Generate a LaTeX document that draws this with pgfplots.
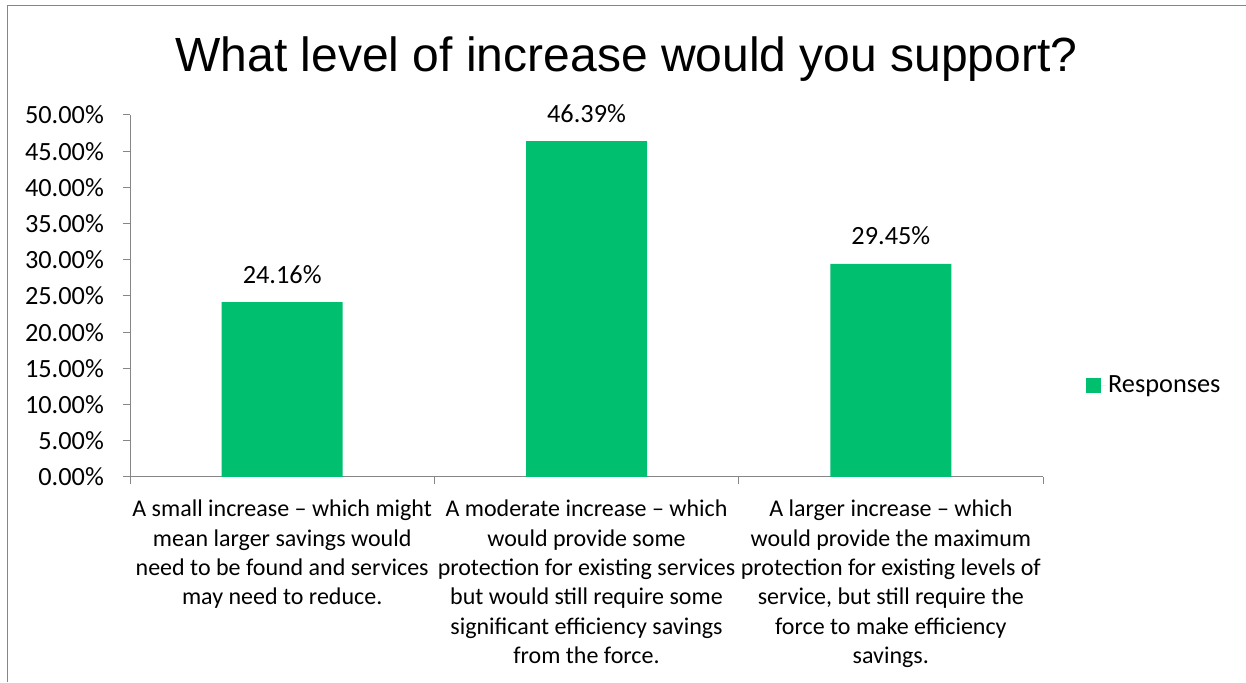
\documentclass[border=0pt]{standalone}
\usepackage{pgfplots}
\pgfplotsset{compat=1.18}
\usepackage{fontspec}
\setmainfont{Carlito}
\newfontfamily\titlefont{Liberation Sans}
\definecolor{barg}{HTML}{00BF6F}
\definecolor{axg}{HTML}{868686}
\begin{document}
\begin{tikzpicture}[x=1pt,y=1pt]
\path[use as bounding box] (0,0) rectangle (1246,682);
\draw[axg, line width=1.5pt] (7.5,0) -- (7.5,676.5) -- (1246,676.5);
\node[font=\titlefont\fontsize{48}{57}\selectfont, anchor=base, inner sep=0pt] at (626.5,610) {What level of increase would you support?};
\begin{axis}[
  at={(130pt,205pt)}, anchor=south west,
  scale only axis, width=913pt, height=362pt,
  xmin=-0.5, xmax=2.5, ymin=0, ymax=50,
  axis x line*=bottom, axis y line*=left,
  axis line style={axg, line width=1pt, -},
  every outer x axis line/.append style={-},
  every outer y axis line/.append style={-},
  tick align=outside, major tick length=7pt,
  tick style={axg, line width=1pt},
  ytick={0,5,10,15,20,25,30,35,40,45,50},
  yticklabels={0.00\%,5.00\%,10.00\%,15.00\%,20.00\%,25.00\%,30.00\%,35.00\%,40.00\%,45.00\%,50.00\%},
  yticklabel style={font=\fontsize{26.3}{31}\selectfont, anchor=east, inner sep=0pt, xshift=-19pt},
  xtick={-0.5,0.5,1.5,2.5},
  x tick label as interval,
  xticklabels={
    {A small increase -- which might\\mean larger savings would\\need to be found and services\\may need to reduce.},
    {A moderate increase -- which\\would provide some\\protection for existing services\\but would still require some\\significant efficiency savings\\from the force.},
    {A larger increase -- which\\would provide the maximum\\protection for existing levels of\\service, but still require the\\force to make efficiency\\savings.},
    {}},
  xticklabel style={font=\fontsize{24}{29.3}\selectfont, align=center, anchor=north, inner sep=0pt, yshift=-16pt},
  /pgf/number format/assume math mode=true,
  ybar, bar width=121pt,
  nodes near coords={\pgfmathprintnumber[fixed,fixed zerofill,precision=2]{\pgfplotspointmeta}\%},
  every node near coord/.append style={font=\fontsize{26.3}{31}\selectfont, text=black, anchor=base, inner sep=0pt, yshift=19pt},
  legend style={at={(1.047,0.254)}, anchor=west, draw=none, fill=none, inner sep=0pt, font=\fontsize{26.3}{31}\selectfont},
  legend image code/.code={\path (0pt,0pt) -- (20pt,0pt); \fill[barg] (0pt,-7.5pt) rectangle (15pt,7.5pt);},
  clip=false,
]
\addplot[fill=barg, draw=none] coordinates {(0,24.16) (1,46.39) (2,29.45)};
\addlegendentry{Responses}
\end{axis}
\end{tikzpicture}
\end{document}
